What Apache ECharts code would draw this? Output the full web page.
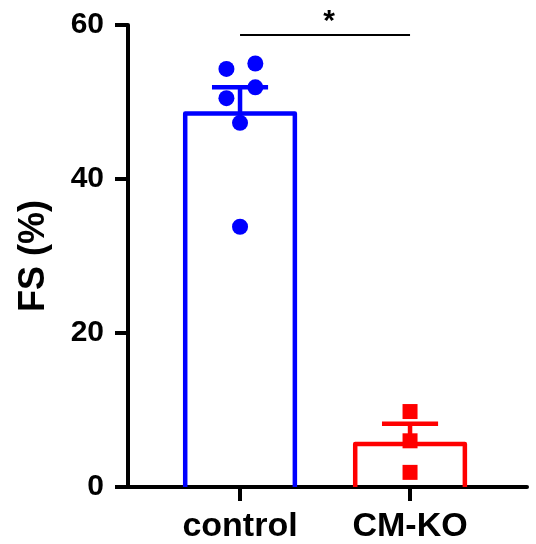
<!DOCTYPE html>
<html>
<head>
<meta charset="utf-8">
<script src="https://cdn.jsdelivr.net/npm/echarts@6/dist/echarts.min.js"></script>
<style>
  html, body { margin: 0; padding: 0; background: #fff; }
  #chart { width: 536px; height: 544px; }
</style>
</head>
<body>
<div id="chart"></div>
<script>
// groups
var groups = ['control', 'CM-KO'];
var groupPos = [1, 2];
var groupColors = ['#0000ff', '#ff0000'];
// bar height = mean, error = SEM
var means = [48.5, 5.6];
var sems = [3.4, 2.6];
// individual points
var controlValues = [54.3, 55.0, 51.9, 50.5, 47.3, 33.8];
var controlJitter = [-0.08, 0.09, 0.09, -0.08, 0.0, 0.0];
var koValues = [9.8, 6.0, 1.9];
var koJitter = [0.0, 0.0, 0.0];
// significance bracket
var sigLine = [[1, 2, 58.7, '*']];

var chart = echarts.init(document.getElementById('chart'));
var font = "'Liberation Sans', Arial, sans-serif";

var barData = [];
var errData = [];
for (var i = 0; i < groups.length; i++) {
  barData.push({ value: [groupPos[i], means[i]], itemStyle: { color: groupColors[i] } });
  errData.push({ value: [groupPos[i], means[i], sems[i]], itemStyle: { color: groupColors[i] } });
}

var controlPts = controlValues.map(function (v, i) { return [groupPos[0] + controlJitter[i], v]; });
var koPts = koValues.map(function (v, i) { return [groupPos[1] + koJitter[i], v]; });

var option = {
  animation: false,
  grid: { left: 128, right: 9, top: 25, bottom: 56 },
  xAxis: {
    type: 'value',
    min: 0.341,
    max: 2.688,
    splitLine: { show: false },
    axisLine: { show: true, onZero: false, lineStyle: { color: '#000', width: 4 } },
    axisTick: { show: true, customValues: groupPos, length: 14, lineStyle: { color: '#000', width: 4 } },
    axisLabel: {
      customValues: groupPos,
      formatter: function (v) { return groups[groupPos.indexOf(v)] || ''; },
      color: '#000', fontSize: 34, fontWeight: 'bold', fontFamily: font, margin: 23
    }
  },
  yAxis: {
    type: 'value',
    min: 0,
    max: 60,
    interval: 20,
    name: 'FS (%)',
    nameLocation: 'middle',
    nameRotate: 90,
    nameGap: 76,
    nameTextStyle: { color: '#000', fontSize: 36, fontWeight: 'bold', fontFamily: font },
    splitLine: { show: false },
    axisLine: { show: true, lineStyle: { color: '#000', width: 4 } },
    axisTick: { show: true, length: 13, lineStyle: { color: '#000', width: 4 } },
    axisLabel: { color: '#000', fontSize: 30, fontWeight: 'bold', fontFamily: font, margin: 24 }
  },
  series: [
    {
      type: 'custom',
      name: 'bars',
      z: 2,
      renderItem: function (params, api) {
        var top = api.coord([api.value(0), api.value(1)]);
        var base = api.coord([api.value(0), 0]);
        var hw = api.size([0.645, 0])[0] / 2;
        return {
          type: 'polyline',
          shape: { points: [[top[0] - hw, base[1]], [top[0] - hw, top[1]], [top[0] + hw, top[1]], [top[0] + hw, base[1]]] },
          style: { stroke: api.visual('color'), lineWidth: 4.5, fill: null, lineJoin: 'round' }
        };
      },
      data: barData
    },
    {
      type: 'custom',
      name: 'sem',
      z: 3,
      renderItem: function (params, api) {
        var x = api.value(0), m = api.value(1), s = api.value(2);
        var p0 = api.coord([x, m]);
        var p1 = api.coord([x, m + s]);
        var hw = api.size([0.33, 0])[0] / 2;
        var st = { stroke: api.visual('color'), lineWidth: 4.5 };
        return {
          type: 'group',
          children: [
            { type: 'line', shape: { x1: p0[0], y1: p0[1], x2: p1[0], y2: p1[1] }, style: st },
            { type: 'line', shape: { x1: p1[0] - hw, y1: p1[1], x2: p1[0] + hw, y2: p1[1] }, style: st }
          ]
        };
      },
      data: errData
    },
    {
      type: 'scatter',
      name: 'control',
      z: 5,
      symbol: 'circle',
      symbolSize: 16,
      itemStyle: { color: groupColors[0], opacity: 1 },
      data: controlPts
    },
    {
      type: 'scatter',
      name: 'CM-KO',
      z: 5,
      symbol: 'rect',
      symbolSize: 15,
      itemStyle: { color: groupColors[1], opacity: 1 },
      data: koPts
    },
    {
      type: 'custom',
      name: 'sig',
      clip: false,
      z: 4,
      renderItem: function (params, api) {
        var a = api.coord([api.value(0), api.value(2)]);
        var b = api.coord([api.value(1), api.value(2)]);
        return {
          type: 'group',
          children: [
            { type: 'line', shape: { x1: a[0], y1: a[1], x2: b[0], y2: b[1] }, style: { stroke: '#000', lineWidth: 2 } },
            {
              type: 'text',
              style: {
                text: sigLine[params.dataIndex][3], x: (a[0] + b[0]) / 2 + 4, y: a[1] - 28,
                align: 'center', verticalAlign: 'top',
                font: 'bold 30px ' + font, fill: '#000'
              }
            }
          ]
        };
      },
      data: sigLine.map(function (d) { return [d[0], d[1], d[2]]; })
    }
  ]
};

chart.setOption(option);
</script>
</body>
</html>
